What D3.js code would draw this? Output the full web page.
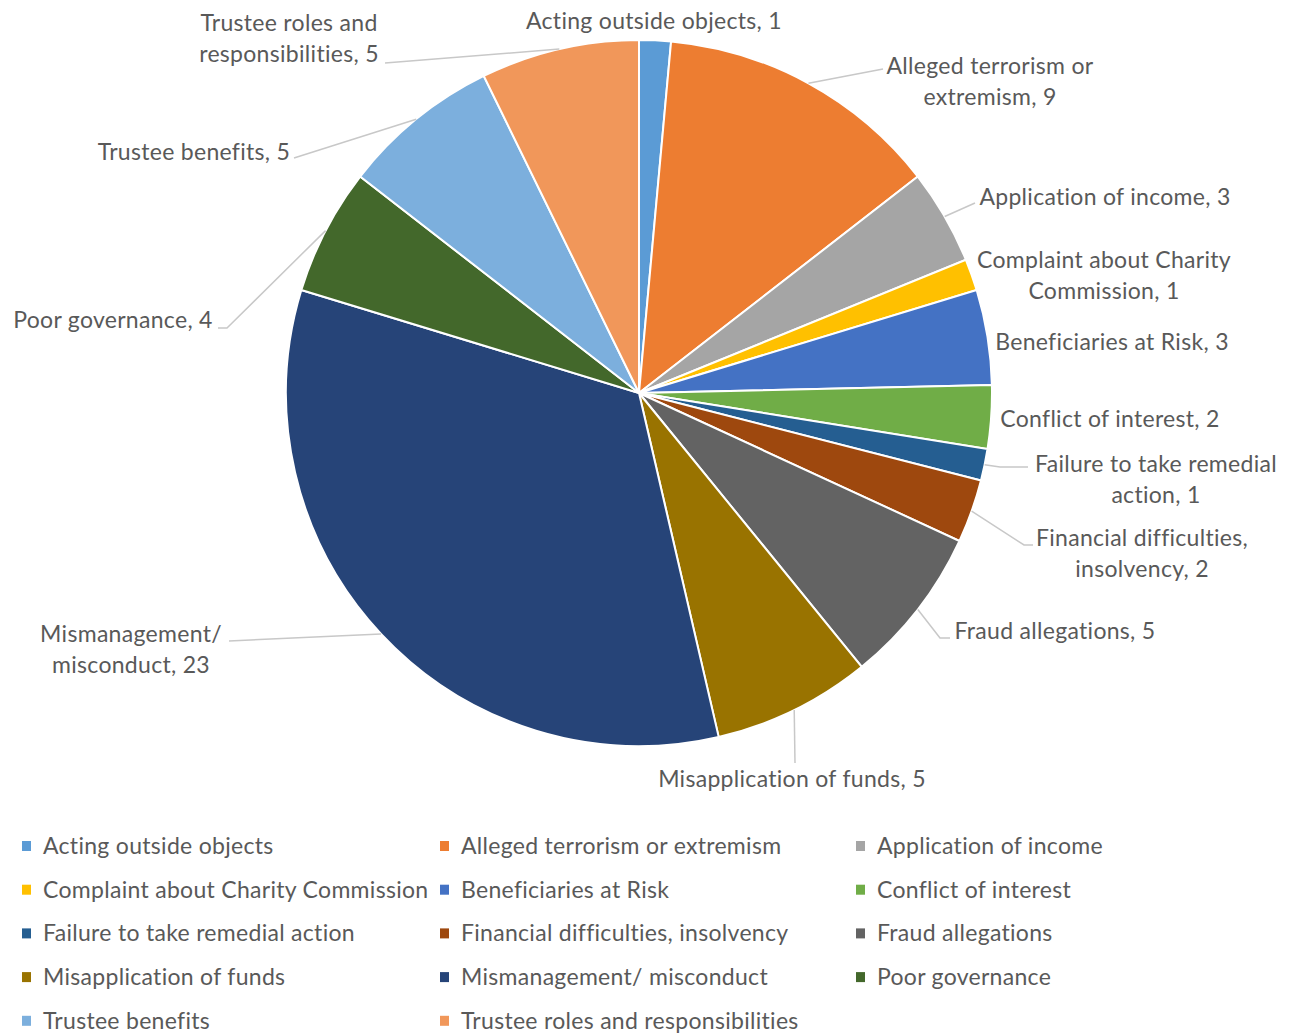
<!DOCTYPE html>
<html>
<head>
<meta charset="utf-8">
<script src="https://cdn.jsdelivr.net/npm/d3@7"></script>
<style>
  html, body { margin: 0; padding: 0; background: #fff; }
  text { font-family: Lato, "Open Sans", sans-serif; fill: #595959; letter-spacing: 0.3px; }
</style>
</head>
<body>
<div id="chart"></div>
<script>
const WIDTH = 1297;
const HEIGHT = 1035;

// === DATA ===
const categories = [
    "Acting outside objects",
    "Alleged terrorism or extremism",
    "Application of income",
    "Complaint about Charity Commission",
    "Beneficiaries at Risk",
    "Conflict of interest",
    "Failure to take remedial action",
    "Financial difficulties, insolvency",
    "Fraud allegations",
    "Misapplication of funds",
    "Mismanagement/ misconduct",
    "Poor governance",
    "Trustee benefits",
    "Trustee roles and responsibilities"
];
const counts = [1, 9, 3, 1, 3, 2, 1, 2, 5, 5, 23, 4, 5, 5];
const colors = [
    "#5b9bd5", "#ed7d31", "#a5a5a5", "#ffc000", "#4472c4", "#70ad47", "#255e91",
    "#9e480e", "#636363", "#997300", "#264478", "#43682b", "#7cafdd", "#f1975a"
];

// data label text lines (as wrapped in the chart)
const labelLines = [
    ["Acting outside objects, 1"],
    ["Alleged terrorism or", "extremism, 9"],
    ["Application of income, 3"],
    ["Complaint about Charity", "Commission, 1"],
    ["Beneficiaries at Risk, 3"],
    ["Conflict of interest, 2"],
    ["Failure to take remedial", "action, 1"],
    ["Financial difficulties,", "insolvency, 2"],
    ["Fraud allegations, 5"],
    ["Misapplication of funds, 5"],
    ["Mismanagement/", "misconduct, 23"],
    ["Poor governance, 4"],
    ["Trustee benefits, 5"],
    ["Trustee roles and", "responsibilities, 5"]
];

// === LAYOUT (label placement, Excel best-fit style) ===
// cx, cy = centre of the label block; lead = where the leader line meets the label (null = none)
const labelPos = [
    { cx: 654, cy: 21, lead: null },
    { cx: 990, cy: 81, lead: [[883, 69]] },
    { cx: 1105, cy: 197, lead: [[975, 203]] },
    { cx: 1104, cy: 275, lead: null },
    { cx: 1112, cy: 342, lead: null },
    { cx: 1110, cy: 419, lead: null },
    { cx: 1156, cy: 479, lead: [[1028, 467], [1000, 467]] },
    { cx: 1142, cy: 553, lead: [[1033, 545], [1024, 545]] },
    { cx: 1055, cy: 631, lead: [[950, 638], [940, 638]] },
    { cx: 792, cy: 779, lead: [[795, 763]] },
    { cx: 131, cy: 649, lead: [[229, 641]] },
    { cx: 113, cy: 320, lead: [[218, 328], [227, 328]] },
    { cx: 194, cy: 152, lead: [[294, 158]] },
    { cx: 289, cy: 38, lead: [[385, 63]] }
];

const CX = 639, CY = 393, R = 353;
const LINE_H = 31;
const FONT = 23;

const data = categories.map((c, i) => ({ name: c, value: counts[i], color: colors[i], lines: labelLines[i], pos: labelPos[i] }));

const svg = d3.select("#chart")
    .append("svg")
    .attr("width", WIDTH)
    .attr("height", HEIGHT);

// === PIE ===
const pie = d3.pie().value(d => d.value).sort(null);
const arc = d3.arc().innerRadius(0).outerRadius(R);
const arcs = pie(data);

const pieG = svg.append("g").attr("transform", `translate(${CX},${CY})`);

pieG.selectAll(".slice")
    .data(arcs)
    .enter()
    .append("path")
    .attr("class", "slice")
    .attr("d", arc)
    .attr("fill", d => d.data.color)
    .attr("stroke", "#fff")
    .attr("stroke-width", 2);

// === LEADER LINES ===
const line = d3.line();
svg.selectAll(".leader")
    .data(arcs.filter(d => d.data.pos.lead))
    .enter()
    .append("path")
    .attr("class", "leader")
    .attr("fill", "none")
    .attr("stroke", "#c8c8c8")
    .attr("stroke-width", 1.5)
    .attr("d", d => {
        const mid = (d.startAngle + d.endAngle) / 2;
        const edge = [CX + R * Math.sin(mid), CY - R * Math.cos(mid)];
        return line(d.data.pos.lead.concat([edge]));
    });

// === DATA LABELS ===
const labels = svg.selectAll(".label")
    .data(data)
    .enter()
    .append("text")
    .attr("class", "label")
    .attr("text-anchor", "middle")
    .style("font-size", FONT + "px");

labels.each(function(d) {
    const n = d.lines.length;
    const top = d.pos.cy - (n - 1) * LINE_H / 2;
    d3.select(this).selectAll("tspan")
        .data(d.lines)
        .enter()
        .append("tspan")
        .attr("x", d.pos.cx)
        .attr("y", (t, j) => top + j * LINE_H)
        .attr("dy", "0.35em")
        .text(t => t);
});

// === LEGEND ===
const legendCols = [22, 440, 856];
const legendRow0 = 846;
const legendRowH = 43.7;

const legend = svg.selectAll(".legend")
    .data(data)
    .enter()
    .append("g")
    .attr("class", "legend")
    .attr("transform", (d, i) => `translate(${legendCols[i % 3]},${legendRow0 + Math.floor(i / 3) * legendRowH})`);

legend.append("rect")
    .attr("x", 0)
    .attr("y", -5)
    .attr("width", 9)
    .attr("height", 10)
    .attr("fill", d => d.color);

legend.append("text")
    .attr("x", 21)
    .attr("dy", "0.35em")
    .style("font-size", FONT + "px")
    .text(d => d.name);
</script>
</body>
</html>
